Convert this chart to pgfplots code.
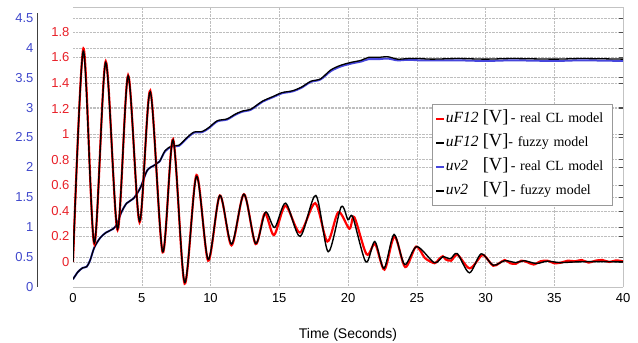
\documentclass[border=0pt]{standalone}
\usepackage{pgfplots}
\pgfplotsset{compat=1.18}
\usepackage{fontspec}
\setmainfont{Liberation Sans}
\newfontfamily\legfont{Liberation Serif}
\definecolor{redlab}{RGB}{232,32,40}
\definecolor{bluelab}{RGB}{64,72,204}
\definecolor{cRed}{RGB}{255,0,0}
\definecolor{cBlue}{RGB}{70,70,220}
\definecolor{frameGray}{RGB}{195,195,195}
\definecolor{gridGray}{RGB}{190,190,190}
\begin{document}
\begin{tikzpicture}[x=1pt,y=1pt]
\path[use as bounding box] (0,0) rectangle (638,343);
\pgfplotsset{
  geom/.style={scale only axis, width=550pt, height=280pt, at={(73pt,56pt)}, anchor=south west,
    xmin=0, xmax=40},
  frame/.style={geom,
    axis line style={frameGray, line width=0.8pt},
    grid style={gridGray, densely dotted, line width=0.5pt},
    xtick style={draw=none},
    ytick style={black!70, line width=0.5pt},
    major tick length=4pt, tick align=inside,
    tick label style={font=\fontsize{13}{13}\selectfont},
    /pgf/number format/assume math mode=true},
}
% frame + grid, blue units (top line, vertical grid, blue horizontal grid)
\begin{axis}[frame, ymin=0, ymax=4.682,
  axis x line*=top, axis y line*=right,
  xtick={5,10,15,20,25,30,35}, xticklabels={}, xmajorgrids,
  ytick={0.5,1,1.5,2,2.5,3,3.5,4,4.5}, yticklabels={}, ymajorgrids]
\end{axis}
% frame + grid, red units (bottom line, right line, x labels, red horizontal grid)
\begin{axis}[frame, ymin=-0.196, ymax=1.995,
  axis x line*=bottom, axis y line*=right,
  xtick={0,5,10,15,20,25,30,35,40},
  xticklabel style={yshift=-3pt},
  ytick={0,0.2,0.4,0.6,0.8,1,1.2,1.4,1.6,1.8}, yticklabels={}, ymajorgrids,
  xlabel={Time (Seconds)}, xlabel style={font=\fontsize{14}{14}\selectfont, yshift=-19pt}]
\end{axis}
% data: uv2 (blue units)
\begin{axis}[geom, ymin=0, ymax=4.682, hide axis]
\addplot[cBlue, line width=2pt, smooth] coordinates {
(0,0.13) (0.35,0.25) (0.7,0.32) (1.0,0.34) (1.25,0.45) (1.55,0.66) (1.97,0.82) (2.4,0.91)
(2.9,0.97) (3.2,1.05) (3.5,1.24) (3.9,1.4) (4.4,1.48) (4.9,1.66) (5.4,1.95) (5.95,2.04)
(6.3,2.1) (6.7,2.27) (7.2,2.35) (7.7,2.36) (8.3,2.49) (8.8,2.58) (9.4,2.59) (9.9,2.66)
(10.5,2.77) (11.2,2.8) (11.8,2.88) (12.3,2.93) (12.9,2.96) (13.3,3.02) (13.8,3.1) (14.6,3.18)
(15.2,3.24) (15.95,3.27) (16.6,3.33) (17.3,3.43) (18.0,3.47) (18.75,3.61) (19.5,3.69)
(20.3,3.74) (20.95,3.77) (21.5,3.81) (22.2,3.81) (22.9,3.82) (23.6,3.79) (24.4,3.8)
(25.2,3.79) (26.1,3.79) (28,3.79) (30,3.78) (32,3.79) (35,3.78) (37,3.79) (40,3.78)};
\addplot[black, line width=1.3pt, smooth] coordinates {
(0,0.13) (0.35,0.25) (0.7,0.32) (1.0,0.34) (1.25,0.45) (1.55,0.66) (1.97,0.82) (2.4,0.91)
(2.9,0.97) (3.2,1.05) (3.5,1.24) (3.9,1.4) (4.4,1.48) (4.9,1.66) (5.4,1.95) (5.95,2.04)
(6.3,2.1) (6.7,2.28) (7.2,2.36) (7.7,2.37) (8.3,2.5) (8.8,2.59) (9.4,2.6) (9.9,2.67)
(10.5,2.78) (11.2,2.81) (11.8,2.89) (12.3,2.94) (12.9,2.97) (13.3,3.03) (13.8,3.11) (14.6,3.19)
(15.2,3.25) (15.95,3.28) (16.6,3.34) (17.3,3.44) (18.0,3.48) (18.75,3.63) (19.5,3.71)
(20.3,3.76) (20.95,3.79) (21.5,3.84) (22.2,3.84) (22.9,3.85) (23.6,3.81) (24.4,3.82)
(25.2,3.82) (26.1,3.81) (28,3.82) (30,3.81) (32,3.82) (35,3.81) (37,3.82) (40,3.81)};
\end{axis}
% data: uF12 (red units) + legend
\begin{axis}[geom, ymin=-0.196, ymax=1.995, hide axis,
  legend image code/.code={\draw[#1, line width=1.5pt] (0pt,0pt) -- (8pt,0pt);},
  legend cell align=left,
  legend style={at={(0.6527,0.6536)}, anchor=north west, draw=gray!80, fill=white,
    line width=0.6pt, inner xsep=3pt, inner ysep=6pt, row sep=7pt,
    font=\legfont\fontsize{14}{14}\selectfont,
    nodes={inner sep=1pt, text height=11pt, text depth=4pt, text width=163pt}}]
\addplot[cRed, line width=2.2pt, smooth] coordinates {
(0,0) (0.76,1.67) (1.55,0.14) (2.38,1.57) (3.24,0.25) (4.01,1.46) (4.84,0.31) (5.62,1.34)
(6.52,0.075) (7.28,0.96) (8.12,-0.17) (8.98,0.68) (9.83,0.01) (10.68,0.52) (11.53,0.13)
(12.43,0.53) (13.28,0.14) (13.95,0.38) (14.62,0.21) (15.45,0.44) (16.5,0.23) (17.62,0.46)
(18.5,0.16) (19.3,0.39) (20.1,0.26) (20.46,0.35) (21.35,0.06) (21.97,0.14) (22.65,-0.06)
(23.38,0.2) (24.16,-0.04) (24.95,0.12) (25.6,0.03) (26.3,-0.01) (26.6,0.02) (26.9,0.045)
(27.1,0.02) (27.5,0.01) (27.97,0.055) (28.85,-0.05) (29.7,0.05) (30.0,0.04) (30.56,-0.03)
(31.0,-0.01) (31.4,0.015) (31.8,-0.01) (32.2,-0.015) (32.6,0.01) (33.0,0.0) (33.5,-0.02)
(34.0,0.005) (34.5,0.01) (35.0,-0.01) (35.5,-0.005) (36.0,0.01) (36.5,0.005) (37.0,0.015)
(37.5,-0.005) (38.0,0.01) (38.5,0.015) (39.0,0.0) (39.5,0.012) (40,0.005)};
\addlegendentry{\makebox[37pt][l]{\fontsize{15.5}{15}\selectfont\itshape uF12}{\fontsize{18.5}{18}\selectfont[V]}\,- real CL model}
\addplot[black, line width=1.4pt, smooth] coordinates {
(0,0) (0.75,1.65) (1.55,0.15) (2.38,1.56) (3.24,0.26) (4.01,1.455) (4.84,0.32) (5.62,1.33)
(6.52,0.08) (7.28,0.955) (8.12,-0.16) (8.98,0.67) (9.83,0.02) (10.68,0.52) (11.53,0.14)
(12.43,0.53) (13.28,0.145) (14.0,0.39) (14.67,0.27) (15.47,0.46) (16.52,0.2) (17.66,0.52)
(18.56,0.08) (19.5,0.43) (20.0,0.33) (20.35,0.35) (21.3,0.0) (21.95,0.16) (22.62,-0.05)
(23.35,0.215) (24.12,-0.02) (25.0,0.12) (26.27,-0.005) (26.9,0.04) (27.45,0.025) (27.95,0.065)
(28.83,-0.085) (29.68,0.063) (30.56,-0.025) (31.4,0.01) (32.2,-0.005) (32.8,0.01)
(33.7,-0.012) (34.5,0.006) (35.4,-0.005) (36.5,0.0) (38,0.003) (40,0.0)};
\addlegendentry{\makebox[37pt][l]{\fontsize{15.5}{15}\selectfont\itshape uF12}{\fontsize{18.5}{18}\selectfont[V]}- fuzzy model}
\addlegendimage{cBlue}
\addlegendentry{\makebox[37pt][l]{\fontsize{15.5}{15}\selectfont\itshape uv2}{\fontsize{18.5}{18}\selectfont[V]}\,- real CL model}
\addlegendimage{black}
\addlegendentry{\makebox[37pt][l]{\fontsize{15.5}{15}\selectfont\itshape uv2}{\fontsize{18.5}{18}\selectfont[V]}\,- fuzzy model}
\end{axis}
% red tick-label axis (no line)
\begin{axis}[scale only axis, at={(73pt,56pt)}, anchor=south west, width=1pt, height=280pt,
  xmin=0, xmax=1, ymin=-0.196, ymax=1.995, hide x axis, axis y line*=left,
  ytick={0,0.2,0.4,0.6,0.8,1,1.2,1.4,1.6,1.8}, major tick length=0pt,
  yticklabel style={text=redlab, font=\fontsize{13}{13}\selectfont},
  axis line style={draw=none},
  /pgf/number format/assume math mode=true]
\end{axis}
% blue tick-label axis
\begin{axis}[scale only axis, at={(37pt,56pt)}, anchor=south west, width=1pt, height=274pt,
  xmin=0, xmax=1, ymin=0, ymax=4.582, hide x axis, axis y line*=left,
  ytick={0,0.5,1,1.5,2,2.5,3,3.5,4,4.5}, major tick length=0pt,
  yticklabel style={text=bluelab, font=\fontsize{13}{13}\selectfont},
  axis line style={black!75, line width=0.8pt},
  /pgf/number format/assume math mode=true]
\end{axis}
\end{tikzpicture}
\end{document}
